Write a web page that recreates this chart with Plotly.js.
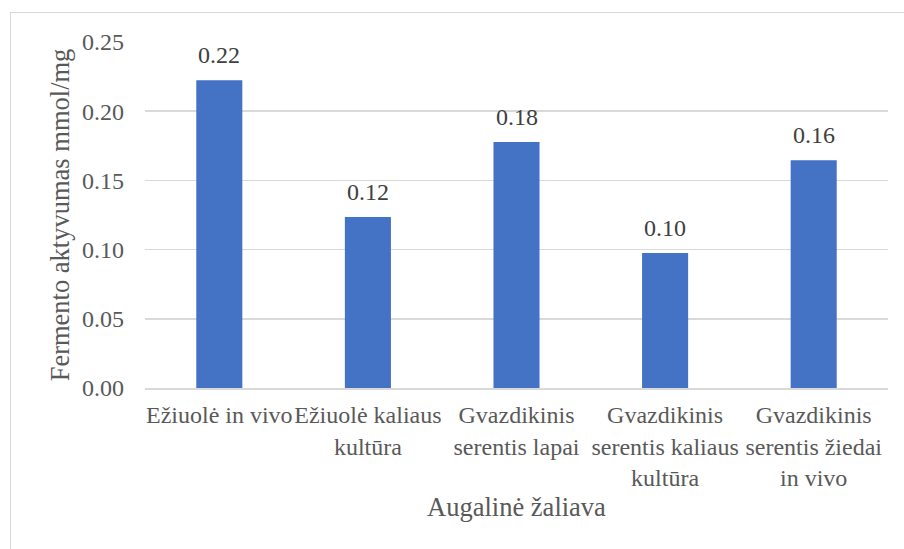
<!DOCTYPE html>
<html>
<head>
<meta charset="utf-8">
<script src="https://cdn.plot.ly/plotly-3.0.1.min.js"></script>
<style>
  html, body { margin: 0; padding: 0; background: #ffffff; overflow: hidden; }
  #frame { position: absolute; left: 10px; top: 12px; width: 920px; height: 560px; border: 1px solid #d9d9d9; }
  #chart { position: absolute; left: 0; top: 0; width: 904px; height: 549px; }
</style>
</head>
<body>
<div id="frame"></div>
<div id="chart"></div>
<script>
const categories = [
  "Ežiuolė in vivo",
  "Ežiuolė kaliaus<br>kultūra",
  "Gvazdikinis<br>serentis lapai",
  "Gvazdikinis<br>serentis kaliaus<br>kultūra",
  "Gvazdikinis<br>serentis žiedai<br>in vivo"
];
const values = [0.2223, 0.1236, 0.1777, 0.0975, 0.1645];
const labels = ["0.22", "0.12", "0.18", "0.10", "0.16"];
const yTicks = [0, 0.05, 0.10, 0.15, 0.20, 0.25];
const yTickText = ["0.00", "0.05", "0.10", "0.15", "0.20", "0.25"];

const fontFamily = "Liberation Serif";
const textColor = "#595959";

const trace = {
  type: "bar",
  x: categories,
  y: values,
  marker: { color: "#4472C4" },
  hoverinfo: "none"
};

const annotations = categories.map((c, i) => ({
  x: c,
  y: values[i],
  xref: "x",
  yref: "y",
  text: labels[i],
  showarrow: false,
  yanchor: "bottom",
  yshift: 10,
  font: { family: fontFamily, size: 24, color: "#404040" }
}));

const layout = {
  width: 904,
  height: 549,
  margin: { l: 145, r: 16, t: 42, b: 161 },
  paper_bgcolor: "rgba(0,0,0,0)",
  plot_bgcolor: "rgba(0,0,0,0)",
  bargap: 0.69,
  showlegend: false,
  font: { family: fontFamily, color: textColor, size: 24 },
  annotations: annotations,
  xaxis: {
    type: "category",
    showgrid: false,
    showline: true,
    linecolor: "#d9d9d9",
    linewidth: 1.5,
    ticks: "",
    tickangle: 0,
    ticklabelstandoff: 5,
    tickfont: { family: fontFamily, size: 24, color: textColor },
    title: { text: "Augalinė žaliava", font: { family: fontFamily, size: 26.5, color: textColor }, standoff: 7 },
    automargin: false
  },
  yaxis: {
    range: [0, 0.25],
    tickvals: yTicks,
    ticktext: yTickText,
    showgrid: true,
    gridcolor: "#d9d9d9",
    gridwidth: 1.5,
    zeroline: false,
    showline: false,
    ticks: "",
    ticklabelstandoff: 20,
    tickfont: { family: fontFamily, size: 24, color: textColor },
    title: { text: "Fermento aktyvumas mmol/mg", font: { family: fontFamily, size: 26.5, color: textColor }, standoff: 4 },
    automargin: false
  }
};

Plotly.newPlot("chart", [trace], layout, { staticPlot: true, displayModeBar: false });
</script>
</body>
</html>
